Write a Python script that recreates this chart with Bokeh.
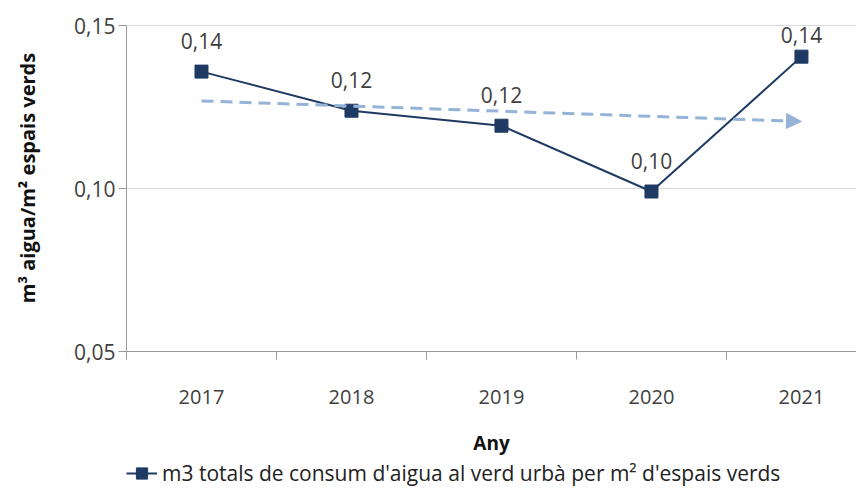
from bokeh.plotting import figure
from bokeh.layouts import column
from bokeh.models import (FixedTicker, CustomJSTickFormatter, Range1d, Arrow, NormalHead,
                          Legend, LegendItem, ColumnDataSource)
from bokeh.core.properties import value
from bokeh.embed import file_html
from bokeh.resources import INLINE

years = [2017, 2018, 2019, 2020, 2021]
values = [0.1359, 0.1239, 0.1193, 0.0991, 0.1405]
value_labels = ["0,14", "0,12", "0,12", "0,10", "0,14"]
trend_years = [2017, 2021]
trend_values = [0.1269, 0.1206]
y_ticks = [0.05, 0.10, 0.15]
series_name = "m3 totals de consum d'aigua al verd urbà per m² d'espais verds"
x_title = "Any"
y_title = "m³ aigua/m² espais verds"

NAVY = "#1F3A63"
TREND = "#95B3D7"
TXT = "#404040"
AXC = "#9A9A9A"
FONT = "Open Sans"

Y0, Y1, YTOP = 0.05, 0.15, 0.1565
FRAME_H = 347
PX_PER_UNIT = FRAME_H / (YTOP - Y0)

# label offsets: 31px above the marker, but kept inside the 0,15 line (as the source does)
dys = []
for v in values:
    dist_top = (Y1 - v) * PX_PER_UNIT
    dys.append(-min(31.0, dist_top - 9.0))

src = ColumnDataSource(dict(x=years, y=values, lab=value_labels, dy=dys))

p = figure(width=856, height=458, output_backend="svg", toolbar_location=None,
           x_range=Range1d(2016.5, 2021.367), y_range=Range1d(Y0, YTOP),
           min_border_left=126, min_border_top=4, min_border_right=0, min_border_bottom=107)
p.outline_line_color = None
p.background_fill_color = "white"
p.border_fill_color = "white"

# axes
xa = p.xaxis[0]
xa.ticker = FixedTicker(ticks=years, minor_ticks=[y - 0.5 for y in years])
xa.major_tick_out = 0
xa.major_tick_in = 0
xa.minor_tick_out = 8
xa.minor_tick_in = 0
xa.minor_tick_line_color = AXC
xa.axis_line_color = AXC
xa.major_label_text_font = FONT
xa.major_label_text_font_size = "20px"
xa.major_label_text_color = TXT
xa.major_label_standoff = 30
xa.axis_label = x_title
xa.axis_label_text_font = FONT
xa.axis_label_text_font_size = "19px"
xa.axis_label_text_font_style = "bold"
xa.axis_label_text_color = "#111111"
xa.axis_label_standoff = 23

ya = p.yaxis[0]
ya.ticker = FixedTicker(ticks=y_ticks)
ya.bounds = (Y0, Y1)
ya.formatter = CustomJSTickFormatter(code="return tick.toFixed(2).replace('.', ',');")
ya.major_tick_out = 8
ya.major_tick_in = 0
ya.minor_tick_line_color = None
ya.major_tick_line_color = AXC
ya.axis_line_color = AXC
ya.major_label_text_font = FONT
ya.major_label_text_font_size = "21px"
ya.major_label_text_color = TXT
ya.major_label_standoff = 3
ya.axis_label = y_title
ya.axis_label_text_font = FONT
ya.axis_label_text_font_size = "20px"
ya.axis_label_text_font_style = "bold"
ya.axis_label_text_color = "#111111"
ya.axis_label_standoff = 30

p.xgrid.grid_line_color = None
p.ygrid.ticker = FixedTicker(ticks=[0.10, 0.15])
p.ygrid.grid_line_color = "#D9D9D9"
p.ygrid.grid_line_width = 1

# trend arrow
p.add_layout(Arrow(end=NormalHead(size=15, fill_color=TREND, line_color=TREND),
                   x_start=trend_years[0], y_start=trend_values[0],
                   x_end=trend_years[1], y_end=trend_values[1],
                   line_color=TREND, line_width=3, line_dash="12 7"))

# series
lr = p.line("x", "y", source=src, line_color=NAVY, line_width=2)
sr = p.scatter("x", "y", source=src, marker="square", size=13, fill_color=NAVY, line_color=NAVY)

p.text("x", "y", text="lab", source=src, y_offset="dy", text_align="center",
       text_baseline="middle", text_font=value(FONT), text_font_size="21px", text_color=TXT)

# legend strip under the chart (its renderers sit outside its visible range)
lf = figure(width=856, height=30, output_backend="svg", toolbar_location=None,
            x_axis_type=None, y_axis_type=None, x_range=Range1d(0, 1), y_range=Range1d(0, 1),
            min_border=0, min_border_left=0, min_border_right=0, min_border_top=0,
            min_border_bottom=0)
lf.outline_line_color = None
lf.grid.visible = False
llr = lf.line(x=[-5, -4], y=[-5, -5], line_color=NAVY, line_width=2)
lsr = lf.scatter(x=[-5], y=[-5], marker="square", size=13, fill_color=NAVY, line_color=NAVY)
legend = Legend(items=[LegendItem(label=series_name, renderers=[llr, lsr])],
                location=(0, 1), border_line_color=None, background_fill_alpha=0,
                padding=0, margin=0, label_text_font=FONT, label_text_font_size="21px",
                label_text_color="#222222", glyph_width=31, glyph_height=28, label_standoff=5,
                spacing=0, label_height=28)
lf.add_layout(legend, "center")

layout = column(p, lf, spacing=0)
open("out.html", "w").write(file_html(layout, INLINE))
